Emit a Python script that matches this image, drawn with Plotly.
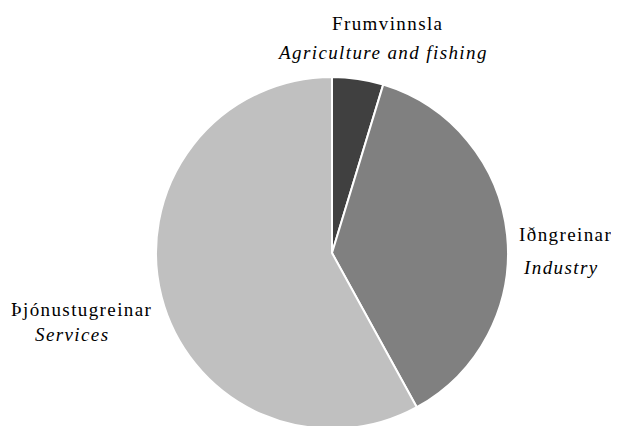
import plotly.graph_objects as go

# the page body has an 8px margin, so the figure is drawn 8px in from the corner
OFF = 8
W, H = 619 - OFF, 426

sectors = ["Frumvinnsla", "Iðngreinar", "Þjónustugreinar"]
sectors_en = ["Agriculture and fishing", "Industry", "Services"]
shares = [4.7, 37.3, 58.0]
colors = ["#404040", "#808080", "#c0c0c0"]

# label placement in window pixels: (x, y) of the icelandic and english lines
label_is = [(387, 24), (565, 234), (81, 309)]
label_en = [(382, 53), (561, 267), (72, 334)]

FONT = dict(family="Liberation Serif, Times New Roman, serif", size=19, color="#000")

cx, cy, r = 332 - OFF, 253 - OFF, 176
fig = go.Figure(go.Pie(
    labels=sectors, values=shares,
    sort=False, direction="clockwise", rotation=0,
    marker=dict(colors=colors, line=dict(color="white", width=2)),
    textinfo="none", hoverinfo="label+percent",
    domain=dict(x=[(cx - r) / W, (cx + r) / W],
                y=[(H - cy - r) / H, (H - cy + r) / H]),
    showlegend=False,
))


def spaced(s):
    return '<span style="letter-spacing:1.4px">' + s + "</span>"


def put(text, x, y):
    fig.add_annotation(x=(x - OFF) / W, y=1 - (y - OFF) / H, xref="paper", yref="paper",
                       text=text, showarrow=False, font=FONT,
                       xanchor="center", yanchor="middle")


for name, en, (x1, y1), (x2, y2) in zip(sectors, sectors_en, label_is, label_en):
    put(spaced(name), x1, y1)
    put("<i>" + spaced(en) + "</i>", x2, y2)

fig.update_layout(width=W, height=H, margin=dict(l=0, r=0, t=0, b=0),
                  paper_bgcolor="white", plot_bgcolor="white")
fig.write_html("out.html")
